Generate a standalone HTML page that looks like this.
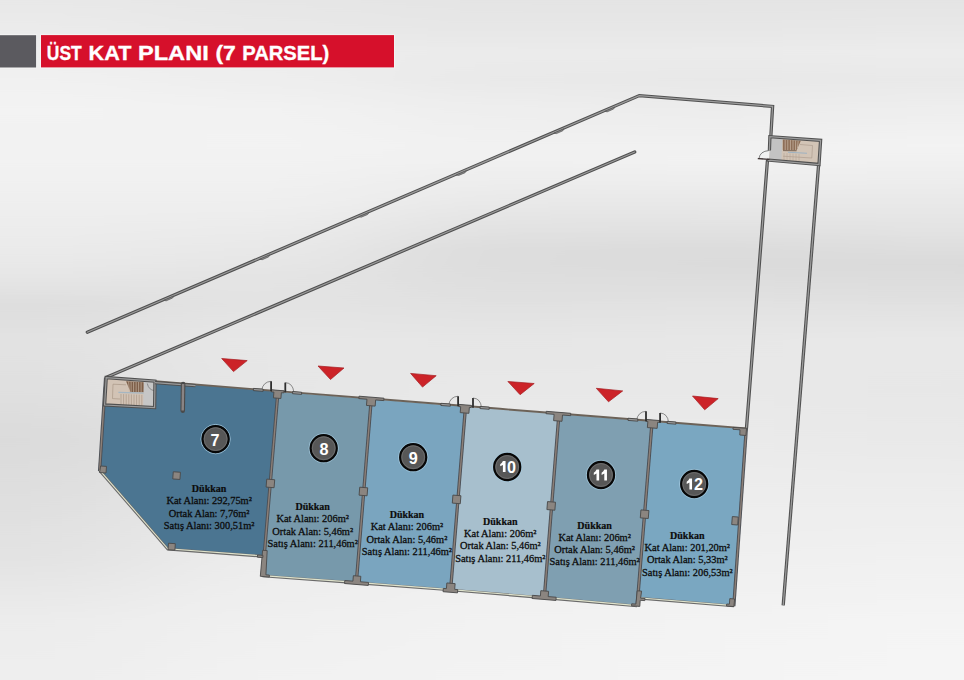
<!DOCTYPE html>
<html><head><meta charset="utf-8">
<style>
html,body{margin:0;padding:0;width:964px;height:680px;overflow:hidden;}
body{position:relative;background:#e8e8e8;font-family:"Liberation Sans",sans-serif;}
#gray{position:absolute;z-index:2;left:0;top:35.2px;width:36.1px;height:32.3px;background:#5b5a5f;box-shadow:0 0 1.5px rgba(255,255,255,0.9);}
#red{position:absolute;z-index:2;left:41px;top:35.1px;width:353px;height:32.3px;background:#d6102b;box-shadow:0 0 1.5px rgba(255,255,255,0.9);}
#title{position:absolute;z-index:3;left:47px;top:35.5px;height:32px;line-height:34px;color:#fff;font-weight:bold;font-size:21px;white-space:nowrap;}
svg{position:absolute;left:0;top:0;}
.ttl{font-family:"Liberation Sans",sans-serif;font-size:21px;font-weight:bold;fill:#fff;stroke:#fff;stroke-width:0.35;}
.lbl{font-family:"Liberation Serif",serif;font-size:10.4px;fill:#0c0c0c;stroke:#0c0c0c;stroke-width:0.28;text-anchor:middle;}
.lblb{font-family:"Liberation Serif",serif;font-size:10px;font-weight:bold;fill:#0c0c0c;stroke:#0c0c0c;stroke-width:0.2;text-anchor:middle;}
.num{font-family:"Liberation Sans",sans-serif;font-size:16.2px;font-weight:bold;fill:#fff;text-anchor:middle;}
.o1{fill:none;stroke:#505050;stroke-width:3.3;stroke-linecap:round;stroke-linejoin:miter;}
.o2{fill:none;stroke:#9c9c9c;stroke-width:1.2;stroke-linecap:round;stroke-linejoin:miter;}
.d1{fill:none;stroke:#4c5056;stroke-width:3.3;}
.d2{fill:none;stroke:#8c7f77;stroke-width:1.4;}
.pil{fill:#8b8580;stroke:#4a4a4a;stroke-width:0.9;stroke-linejoin:round;}
.gl1{fill:none;stroke:#6a6a6a;stroke-width:2.7;}
.gl2{fill:none;stroke:#dfe3cc;stroke-width:1.1;}
.post{stroke:#2e2e2e;stroke-width:1.8;}
.arc{fill:none;stroke:#4a4a4a;stroke-width:0.6;}
.sill{fill:#9a9a9a;stroke:#3e3e3e;stroke-width:0.8;}
</style></head><body>
<svg width="964" height="680" viewBox="0 0 964 680">
  <defs>
    <linearGradient id="bg0" x1="0" y1="0" x2="0" y2="680" gradientUnits="userSpaceOnUse">
      <stop offset="0.0000" stop-color="rgb(232,232,232)"/>
      <stop offset="0.0441" stop-color="rgb(235,235,235)"/>
      <stop offset="0.0765" stop-color="rgb(238,238,238)"/>
      <stop offset="0.1176" stop-color="rgb(241,241,241)"/>
      <stop offset="0.1618" stop-color="rgb(243,243,243)"/>
      <stop offset="0.2132" stop-color="rgb(242,242,242)"/>
      <stop offset="0.2353" stop-color="rgb(242,242,242)"/>
      <stop offset="0.2647" stop-color="rgb(241,241,241)"/>
      <stop offset="0.2941" stop-color="rgb(239,239,239)"/>
      <stop offset="0.3235" stop-color="rgb(237,237,237)"/>
      <stop offset="0.3676" stop-color="rgb(234,234,234)"/>
      <stop offset="0.3897" stop-color="rgb(232,232,232)"/>
      <stop offset="0.4044" stop-color="rgb(230,230,230)"/>
      <stop offset="0.4485" stop-color="rgb(222,222,222)"/>
      <stop offset="0.5000" stop-color="rgb(226,226,226)"/>
      <stop offset="0.5735" stop-color="rgb(224,224,224)"/>
      <stop offset="0.6471" stop-color="rgb(219,219,219)"/>
      <stop offset="0.7353" stop-color="rgb(223,223,223)"/>
      <stop offset="0.8235" stop-color="rgb(227,227,227)"/>
      <stop offset="0.9118" stop-color="rgb(236,236,236)"/>
      <stop offset="1.0000" stop-color="rgb(238,238,238)"/>
    </linearGradient>
    <linearGradient id="bg1" x1="0" y1="0" x2="0" y2="680" gradientUnits="userSpaceOnUse">
      <stop offset="0.0000" stop-color="rgb(230,230,230)"/>
      <stop offset="0.0441" stop-color="rgb(232,232,232)"/>
      <stop offset="0.0765" stop-color="rgb(236,236,236)"/>
      <stop offset="0.1176" stop-color="rgb(238,238,238)"/>
      <stop offset="0.1618" stop-color="rgb(242,242,242)"/>
      <stop offset="0.2132" stop-color="rgb(243,243,243)"/>
      <stop offset="0.2353" stop-color="rgb(242,242,242)"/>
      <stop offset="0.2647" stop-color="rgb(241,241,241)"/>
      <stop offset="0.2941" stop-color="rgb(239,239,239)"/>
      <stop offset="0.3235" stop-color="rgb(236,236,236)"/>
      <stop offset="0.3676" stop-color="rgb(232,232,232)"/>
      <stop offset="0.3897" stop-color="rgb(230,230,230)"/>
      <stop offset="0.4044" stop-color="rgb(228,228,228)"/>
      <stop offset="0.4485" stop-color="rgb(227,227,227)"/>
      <stop offset="0.5000" stop-color="rgb(231,231,231)"/>
      <stop offset="0.5735" stop-color="rgb(230,230,230)"/>
      <stop offset="0.6471" stop-color="rgb(229,229,229)"/>
      <stop offset="0.7353" stop-color="rgb(232,232,232)"/>
      <stop offset="0.8235" stop-color="rgb(236,236,236)"/>
      <stop offset="0.9118" stop-color="rgb(240,240,240)"/>
      <stop offset="1.0000" stop-color="rgb(242,242,242)"/>
    </linearGradient>
    <linearGradient id="bg2" x1="0" y1="0" x2="0" y2="680" gradientUnits="userSpaceOnUse">
      <stop offset="0.0000" stop-color="rgb(228,228,228)"/>
      <stop offset="0.0441" stop-color="rgb(231,231,231)"/>
      <stop offset="0.0765" stop-color="rgb(235,235,235)"/>
      <stop offset="0.1176" stop-color="rgb(233,233,233)"/>
      <stop offset="0.1618" stop-color="rgb(238,238,238)"/>
      <stop offset="0.2132" stop-color="rgb(241,241,241)"/>
      <stop offset="0.2353" stop-color="rgb(241,241,241)"/>
      <stop offset="0.2647" stop-color="rgb(237,237,237)"/>
      <stop offset="0.2941" stop-color="rgb(233,233,233)"/>
      <stop offset="0.3235" stop-color="rgb(228,228,228)"/>
      <stop offset="0.3676" stop-color="rgb(221,221,221)"/>
      <stop offset="0.3897" stop-color="rgb(221,221,221)"/>
      <stop offset="0.4044" stop-color="rgb(222,222,222)"/>
      <stop offset="0.4485" stop-color="rgb(225,225,225)"/>
      <stop offset="0.5000" stop-color="rgb(230,230,230)"/>
      <stop offset="0.5735" stop-color="rgb(232,232,232)"/>
      <stop offset="0.6471" stop-color="rgb(234,234,234)"/>
      <stop offset="0.7353" stop-color="rgb(236,236,236)"/>
      <stop offset="0.8235" stop-color="rgb(239,239,239)"/>
      <stop offset="0.9118" stop-color="rgb(242,242,242)"/>
      <stop offset="1.0000" stop-color="rgb(243,243,243)"/>
    </linearGradient>
    <linearGradient id="bg3" x1="0" y1="0" x2="0" y2="680" gradientUnits="userSpaceOnUse">
      <stop offset="0.0000" stop-color="rgb(228,228,228)"/>
      <stop offset="0.0441" stop-color="rgb(231,231,231)"/>
      <stop offset="0.0765" stop-color="rgb(235,235,235)"/>
      <stop offset="0.1176" stop-color="rgb(232,232,232)"/>
      <stop offset="0.1618" stop-color="rgb(236,236,236)"/>
      <stop offset="0.2132" stop-color="rgb(241,241,241)"/>
      <stop offset="0.2353" stop-color="rgb(242,242,242)"/>
      <stop offset="0.2647" stop-color="rgb(238,238,238)"/>
      <stop offset="0.2941" stop-color="rgb(233,233,233)"/>
      <stop offset="0.3235" stop-color="rgb(228,228,228)"/>
      <stop offset="0.3676" stop-color="rgb(220,220,220)"/>
      <stop offset="0.3897" stop-color="rgb(219,219,219)"/>
      <stop offset="0.4044" stop-color="rgb(221,221,221)"/>
      <stop offset="0.4485" stop-color="rgb(226,226,226)"/>
      <stop offset="0.5000" stop-color="rgb(231,231,231)"/>
      <stop offset="0.5735" stop-color="rgb(232,232,232)"/>
      <stop offset="0.6471" stop-color="rgb(234,234,234)"/>
      <stop offset="0.7353" stop-color="rgb(237,237,237)"/>
      <stop offset="0.8235" stop-color="rgb(240,240,240)"/>
      <stop offset="0.9118" stop-color="rgb(243,243,243)"/>
      <stop offset="1.0000" stop-color="rgb(244,244,244)"/>
    </linearGradient>
    <linearGradient id="bg4" x1="0" y1="0" x2="0" y2="680" gradientUnits="userSpaceOnUse">
      <stop offset="0.0000" stop-color="rgb(228,228,228)"/>
      <stop offset="0.0441" stop-color="rgb(232,232,232)"/>
      <stop offset="0.0765" stop-color="rgb(236,236,236)"/>
      <stop offset="0.1176" stop-color="rgb(233,233,233)"/>
      <stop offset="0.1618" stop-color="rgb(238,238,238)"/>
      <stop offset="0.2132" stop-color="rgb(243,243,243)"/>
      <stop offset="0.2353" stop-color="rgb(241,241,241)"/>
      <stop offset="0.2647" stop-color="rgb(237,237,237)"/>
      <stop offset="0.2941" stop-color="rgb(233,233,233)"/>
      <stop offset="0.3235" stop-color="rgb(229,229,229)"/>
      <stop offset="0.3676" stop-color="rgb(222,222,222)"/>
      <stop offset="0.3897" stop-color="rgb(218,218,218)"/>
      <stop offset="0.4044" stop-color="rgb(220,220,220)"/>
      <stop offset="0.4485" stop-color="rgb(225,225,225)"/>
      <stop offset="0.5000" stop-color="rgb(232,232,232)"/>
      <stop offset="0.5735" stop-color="rgb(231,231,231)"/>
      <stop offset="0.6471" stop-color="rgb(233,233,233)"/>
      <stop offset="0.7353" stop-color="rgb(237,237,237)"/>
      <stop offset="0.8235" stop-color="rgb(241,241,241)"/>
      <stop offset="0.9118" stop-color="rgb(244,244,244)"/>
      <stop offset="1.0000" stop-color="rgb(245,245,245)"/>
    </linearGradient>
    <filter id="hblur" x="-0.5" y="0" width="2" height="1" filterUnits="objectBoundingBox"><feGaussianBlur stdDeviation="70 0"/></filter>
  </defs>
  <g filter="url(#hblur)">
    <rect x="-400" y="0" width="555" height="680" fill="url(#bg0)"/>
    <rect x="155" y="0" width="230" height="680" fill="url(#bg1)"/>
    <rect x="385" y="0" width="230" height="680" fill="url(#bg2)"/>
    <rect x="615" y="0" width="210" height="680" fill="url(#bg3)"/>
    <rect x="825" y="0" width="539" height="680" fill="url(#bg4)"/>
  </g>
  <polyline class="o1"  points="87.3,332.2 639.3,95.6 772.6,106.4 770.8,137.0"/>
  <polyline class="o2"  points="87.3,332.2 639.3,95.6 772.6,106.4 770.8,137.0"/>
  <polyline class="o1"  points="106.5,377.3 634.7,152.0"/>
  <polyline class="o2"  points="106.5,377.3 634.7,152.0"/>
  <polyline class="o1"  points="767.4,161.0 746.5,428.0"/>
  <polyline class="o2"  points="767.4,161.0 746.5,428.0"/>
  <polyline class="o1" style="stroke-linecap:butt" points="818.6,165.0 783.2,605.4"/>
  <polyline class="o2" style="stroke-linecap:butt" points="818.6,165.0 783.2,605.4"/>
  <polygon points="163.8,300.3 166.2,300.8 172.6,298.0 173.9,296.0" fill="#8c8c8c" stroke="#555" stroke-width="0.7"/>
  <polygon points="259.8,259.2 262.2,259.7 268.6,256.9 269.9,254.8" fill="#8c8c8c" stroke="#555" stroke-width="0.7"/>
  <polygon points="358.8,216.7 361.2,217.2 367.6,214.5 368.9,212.4" fill="#8c8c8c" stroke="#555" stroke-width="0.7"/>
  <polygon points="456.3,174.9 458.7,175.4 465.1,172.7 466.4,170.6" fill="#8c8c8c" stroke="#555" stroke-width="0.7"/>
  <polygon points="554.0,133.1 556.4,133.6 562.8,130.8 564.1,128.7" fill="#8c8c8c" stroke="#555" stroke-width="0.7"/>
  <polygon points="604.8,111.3 607.2,111.8 613.6,109.0 614.9,107.0" fill="#8c8c8c" stroke="#555" stroke-width="0.7"/>
  <!-- stair box top right -->
  <polygon points="770.5,137.5 820.2,141 818.8,163.6 769.2,159.2" fill="#d2c4b6"/>
  <polygon points="770.5,137.5 782.4,138.4 781.4,160.2 769.2,159.2" fill="#c3c3c3"/>
  <polygon points="782.8,139.5 800.8,140.7 796.5,150.6 782.8,150" fill="#8d6e57"/>
  <g stroke="#d8c9b8" stroke-width="0.6">
    <line x1="785.2" y1="139.6" x2="785.2" y2="150"/><line x1="787.8" y1="139.8" x2="787.8" y2="150.2"/><line x1="790.4" y1="140" x2="790.4" y2="150.3"/><line x1="793" y1="140.2" x2="793" y2="150.4"/><line x1="795.6" y1="140.4" x2="795.6" y2="150.5"/><line x1="798.2" y1="140.5" x2="797.5" y2="148"/>
  </g>
  <line x1="783" y1="150.6" x2="796.5" y2="150.8" stroke="#6b5444" stroke-width="0.8"/>
  <line x1="788" y1="152.3" x2="807" y2="153.2" stroke="#9eb2c2" stroke-width="1.1"/>
  <g stroke="#a08f80" stroke-width="0.5" fill="none">
    <polyline points="800,144.5 812.5,145.5 811.8,158 783,156.2"/>
  </g>
  <g stroke="#b3a292" stroke-width="0.55">
    <line x1="784" y1="153" x2="784" y2="160"/><line x1="787" y1="153.2" x2="787" y2="160.2"/><line x1="790" y1="153.4" x2="790" y2="160.4"/><line x1="793" y1="153.6" x2="793" y2="160.6"/><line x1="796" y1="153.8" x2="796" y2="160.8"/><line x1="799" y1="154" x2="799" y2="161"/>
  </g>
  <polyline class="o1" style="stroke-linecap:butt" points="769.4,150.5 769.9,136.7 820.6,140.4 819,164.5 768.4,160.1 768.7,159"/>
  <polyline class="o2" style="stroke-linecap:butt" points="769.4,150.5 769.9,136.7 820.6,140.4 819,164.5 768.4,160.1 768.7,159"/>
  <!-- door top right -->
  <path d="M759,158.4 Q760,151.2 768.8,150.6" fill="none" stroke="#505050" stroke-width="0.7"/>
  <line x1="758.3" y1="158.7" x2="769" y2="159.3" stroke="#3a2f2f" stroke-width="1.3" stroke-linecap="round"/>

  <!-- shops -->
  <polygon points="105.6,377.2 277.9,391.7 264.2,556.0 167.8,549.0 99.3,470.0" fill="#4b7591"/>
  <polygon points="277.9,391.7 371.2,399.1 356.3,582.8 262.5,576.0" fill="#7799ab"/>
  <polygon points="371.2,399.1 465.4,406.7 450.6,590.0 356.3,582.8" fill="#7aa5bf"/>
  <polygon points="465.4,406.7 558.8,414.1 544.3,597.8 450.6,590.0" fill="#a7bfcd"/>
  <polygon points="558.8,414.1 652.0,421.5 637.1,606.0 544.3,597.8" fill="#7f9fb1"/>
  <polygon points="652.0,421.5 746.3,428.6 733.8,606.2 637.8,598.0" fill="#7aa7c1"/>
  <polyline class="d1"  points="99.6,471.0 105.6,377.6"/>
  <polyline class="d2"  points="99.6,471.0 105.6,377.6"/>
  <polyline class="d1"  points="746.3,428.6 733.8,606.2"/>
  <polyline class="d2"  points="746.3,428.6 733.8,606.2"/>
  <polyline fill="none" stroke="#6c6258" stroke-width="1.9" points="155.0,381.3 300.0,392.9 400.0,400.8 500.0,408.8 600.0,416.8 700.0,424.7 746.3,428.4"/>
  <polyline class="gl1" points="99.6,470.5 167.8,549.2 261.0,556.2"/>
  <polyline class="gl1" points="262.5,576.0 356.3,582.8 450.6,590.0 544.3,597.8 637.1,606.0"/>
  <polyline class="gl1" points="637.8,598.2 733.8,606.0"/>
  <polyline class="gl2" points="99.6,470.1 167.8,548.8 261.0,555.8"/>
  <polyline class="gl2" points="262.5,575.6 356.3,582.4 450.6,589.6 544.3,597.4 637.1,605.6"/>
  <polyline class="gl2" points="637.8,597.8 733.8,605.6"/>
  <line class="d1" x1="277.9" y1="392" x2="262.5" y2="576"/>
  <line class="d1" x1="371.2" y1="400" x2="356.3" y2="582.8"/>
  <line class="d1" x1="465.4" y1="408" x2="450.6" y2="590"/>
  <line class="d1" x1="558.8" y1="415.6" x2="544.3" y2="597.8"/>
  <line class="d1" x1="652.0" y1="423" x2="637.1" y2="606"/>
  <line class="d2" x1="277.9" y1="392" x2="262.5" y2="576"/>
  <line class="d2" x1="371.2" y1="400" x2="356.3" y2="582.8"/>
  <line class="d2" x1="465.4" y1="408" x2="450.6" y2="590"/>
  <line class="d2" x1="558.8" y1="415.6" x2="544.3" y2="597.8"/>
  <line class="d2" x1="652.0" y1="423" x2="637.1" y2="606"/>
  <!-- pillars -->
  <path class="pil" transform="translate(277.8,390.3) rotate(4.6)" d="M-6.2,0 H6.2 V2.1 H3.75 V7.9 H-3.75 V2.1 H-6.2 Z"/>
  <path class="pil" transform="translate(371.5,397.2) rotate(4.6)" d="M-12.5,0 H12.5 V2.4 H4.35 V8.6 H-4.35 V2.4 H-12.5 Z"/>
  <path class="pil" transform="translate(465.2,404.9) rotate(4.6)" d="M-6.2,0 H6.2 V2.2 H4.35 V8.100000000000001 H-4.35 V2.2 H-6.2 Z"/>
  <path class="pil" transform="translate(558.5,412.3) rotate(4.6)" d="M-12.3,0 H12.3 V2.4 H4.2 V8.7 H-4.2 V2.4 H-12.3 Z"/>
  <path class="pil" transform="translate(652.9,420.0) rotate(4.6)" d="M-6.75,0 H6.75 V1.8 H4.9 V8.0 H-4.9 V1.8 H-6.75 Z"/>
  <path class="pil" d="M733,427.4 L746.5,428.3 L745.9,435.5 L739.8,435 L740,429.8 L733,429.3 Z"/>
  <path class="pil" transform="translate(357.1,576.0) rotate(4.6)" d="M-3.75,0 H3.75 V5.5 H11.9 V8.5 H-11.9 V5.5 H-3.75 Z"/>
  <path class="pil" transform="translate(451.0,583.3) rotate(4.6)" d="M-4.15,0 H4.15 V5.7 H7.25 V9.0 H-7.25 V5.7 H-4.15 Z"/>
  <path class="pil" transform="translate(544.7,591.0) rotate(4.6)" d="M-3.9,0 H3.9 V5.3 H11.95 V8.5 H-11.95 V5.3 H-3.9 Z"/>
  <path class="pil" d="M262.6,550.3 L267.2,550.6 L265.9,574.8 L269.4,575.1 L269.3,577 L260.3,576.3 Z"/>
  <path class="pil" d="M257.5,555 L263,555.4 L262.8,557.6 L257.4,557.2 Z"/>
  <path class="pil" d="M637.2,590.8 L641.6,591.1 L640.6,598.2 L645,598.5 L644.8,600.6 L640.2,600.3 L639.8,606.4 L631.5,605.8 L631.7,603.8 L635.9,604.1 Z"/>
  <path class="pil" d="M729.8,598.6 L734.6,599 L733.9,606.6 L726.5,606 L726.7,604 L729.4,604.2 Z"/>
  <rect class="pil" x="266.4" y="479.4" width="8" height="8" transform="rotate(4.6 270.35 483.45)"/>
  <rect class="pil" x="359.4" y="487.5" width="8" height="8" transform="rotate(4.6 363.4 491.5)"/>
  <rect class="pil" x="452.6" y="495.4" width="8" height="8" transform="rotate(4.6 456.6 499.4)"/>
  <rect class="pil" x="547.2" y="501.9" width="8" height="8" transform="rotate(4.6 551.2 505.9)"/>
  <rect class="pil" x="640.6" y="510.2" width="8" height="8" transform="rotate(4.6 644.6 514.2)"/>
  <rect class="pil" x="732" y="516.8" width="6" height="8" transform="rotate(4.6 735 520.8)"/>
  <path class="pil" d="M100.6,466 L106.5,466.4 L106,473 L99.6,472.5 Z"/>
  <rect class="pil" x="173" y="472" width="7.2" height="7.2" transform="rotate(4 176.6 475.6)"/>
  <path class="pil" d="M168.5,543.2 L175.3,543.7 L174.9,550.2 L168,549.7 Z"/>
  <!-- doors -->
  <line class="post" x1="271.1" y1="381.3" x2="271.1" y2="391.3"/>
  <line class="post" x1="285.3" y1="382.6" x2="285.3" y2="392.40000000000003"/>
  <path class="arc" d="M261.6,390.3 Q263.1,381.8 271.1,381.3"/>
  <path class="arc" d="M285.3,382.6 Q292.8,383.1 293.8,391.90000000000003"/>
  <line class="post" x1="458.1" y1="396.2" x2="458.1" y2="406.2"/>
  <line class="post" x1="473.0" y1="398.0" x2="473.0" y2="407.8"/>
  <path class="arc" d="M448.6,405.2 Q450.1,396.7 458.1,396.2"/>
  <path class="arc" d="M473.0,398.0 Q480.5,398.5 481.5,407.3"/>
  <line class="post" x1="646.0" y1="411.3" x2="646.0" y2="421.3"/>
  <line class="post" x1="660.1" y1="413.0" x2="660.1" y2="422.8"/>
  <path class="arc" d="M636.5,420.3 Q638.0,411.8 646.0,411.3"/>
  <path class="arc" d="M660.1,413.0 Q667.6,413.5 668.6,422.3"/>
  <!-- sills -->
  <polygon class="sill" points="253.4,388.4 263.1,389.1 263.1,391.3 253.4,390.6"/>
  <polygon class="sill" points="292.6,391.5 301.6,392.2 301.6,394.4 292.6,393.7"/>
  <polygon class="sill" points="440.9,403.3 450.3,404.0 450.3,406.2 440.9,405.5"/>
  <polygon class="sill" points="480.1,406.4 489.2,407.1 489.2,409.3 480.1,408.6"/>
  <polygon class="sill" points="628.0,418.2 637.8,419.0 637.8,421.2 628.0,420.4"/>
  <polygon class="sill" points="667.2,421.3 675.9,422.0 675.9,424.2 667.2,423.5"/>
  <!-- stair box shop 7 -->
  <polygon points="106.5,378.2 155.5,381.8 155.2,407 105,404" fill="#d2c3b5"/>
  <polygon points="143.6,380.8 155.5,381.8 155.2,407 143.2,406" fill="#c6c6c6"/>
  <polygon points="126.1,381.3 143.6,382.3 143.5,392.3 130.5,392" fill="#7d5e48"/>
  <g stroke="#c9b6a4" stroke-width="0.7">
    <line x1="128.6" y1="381.5" x2="129.4" y2="392"/><line x1="131.1" y1="381.6" x2="131.1" y2="392"/><line x1="133.6" y1="381.8" x2="133.6" y2="392.1"/><line x1="136.1" y1="381.9" x2="136.1" y2="392.1"/><line x1="138.6" y1="382" x2="138.6" y2="392.2"/><line x1="141.1" y1="382.2" x2="141.1" y2="392.2"/>
  </g>
  <line x1="118.4" y1="392.4" x2="143.6" y2="393.2" stroke="#a5b6c2" stroke-width="1.3"/>
  <g stroke="#a39080" stroke-width="0.6">
    <line x1="121" y1="394" x2="121" y2="404.6"/><line x1="123.6" y1="394.1" x2="123.6" y2="404.8"/><line x1="126.2" y1="394.2" x2="126.2" y2="405"/><line x1="128.8" y1="394.3" x2="128.8" y2="405.2"/><line x1="131.4" y1="394.4" x2="131.4" y2="405.3"/><line x1="134" y1="394.5" x2="134" y2="405.5"/><line x1="136.6" y1="394.6" x2="136.6" y2="405.6"/><line x1="139.2" y1="394.7" x2="139.2" y2="405.8"/><line x1="141.8" y1="394.8" x2="141.8" y2="405.9"/>
  </g>
  <polyline points="126,384.8 113,384.2 112.5,398.6 120,399" fill="none" stroke="#a39080" stroke-width="0.6"/>
  <path d="M147.3,383.5 Q148.5,389.8 154.5,390.7" fill="none" stroke="#707070" stroke-width="0.7"/>
  <polygon class="o1" points="155,381.2 106.2,377.6 104.6,405 154.6,407.6"/>
  <polygon class="o2" points="155,381.2 106.2,377.6 104.6,405 154.6,407.6"/>

  <!-- internal partition shop 7 -->
  <polyline class="o1" style="stroke-linecap:butt" points="155,382.7 195.5,385.6"/>
  <polyline class="o2" style="stroke-linecap:butt" points="155,382.7 195.5,385.6"/>
  <line x1="183.1" y1="384" x2="182.7" y2="410.6" stroke="#4a4a4a" stroke-width="4.6" stroke-linecap="round"/>
  <line x1="183.1" y1="384" x2="182.7" y2="410.4" stroke="#8a8484" stroke-width="2.4"/>
  <!-- triangles -->
  <g fill="#cc2328" stroke="#a51b20" stroke-width="0.7" stroke-linejoin="round">
    <polygon points="221.7,358.5 247.2,360.6 233.5,371.6"/>
    <polygon points="318.0,366.0 344.0,368.0 330.5,379.5"/>
    <polygon points="410.6,373.4 436.2,375.7 422.5,387.1"/>
    <polygon points="507.9,381.5 534.2,383.5 520.1,394.7"/>
    <polygon points="596.3,388.3 622.7,390.9 608.5,401.8"/>
    <polygon points="692.5,396.0 718.2,398.6 704.7,409.8"/>
  </g>
  <g fill="none" stroke="#a6cbe0" stroke-width="1" opacity="0.8">
    <circle cx="215.6" cy="439.1" r="14.7"/>
    <circle cx="323.7" cy="448.2" r="14.7"/>
    <circle cx="413.2" cy="457.2" r="14.7"/>
    <circle cx="507.2" cy="467.0" r="14.7"/>
    <circle cx="601.0" cy="475.0" r="14.7"/>
    <circle cx="694.2" cy="484.0" r="14.7"/>
  </g>
  <g fill="#575757" stroke="#070707" stroke-width="2.2">
    <circle cx="215.6" cy="439.1" r="13.05"/>
    <circle cx="323.7" cy="448.2" r="13.05"/>
    <circle cx="413.2" cy="457.2" r="13.05"/>
    <circle cx="507.2" cy="467.0" r="13.05"/>
    <circle cx="601.0" cy="475.0" r="13.05"/>
    <circle cx="694.2" cy="484.0" r="13.05"/>
  </g>
  <g fill="none" stroke="#6e6e6e" stroke-width="0.9">
    <circle cx="215.6" cy="439.1" r="11.4"/>
    <circle cx="323.7" cy="448.2" r="11.4"/>
    <circle cx="413.2" cy="457.2" r="11.4"/>
    <circle cx="507.2" cy="467.0" r="11.4"/>
    <circle cx="601.0" cy="475.0" r="11.4"/>
    <circle cx="694.2" cy="484.0" r="11.4"/>
  </g>
  <g class="num">
    <text x="215.1" y="445.7">7</text>
    <text x="323.9" y="455.0">8</text>
    <text x="413.3" y="464.1">9</text>
    <path fill="#fff" d="M502.90,461.00 H505.55 V472.00 H502.90 V464.90 L500.20,466.30 V464.20 Q502.30,462.90 502.90,461.00 Z"/>
    <text x="511.5" y="472.8">0</text>
    <path fill="#fff" d="M596.50,469.60 H599.15 V480.60 H596.50 V473.50 L593.80,474.90 V472.80 Q595.90,471.50 596.50,469.60 Z"/>
    <path fill="#fff" d="M604.30,469.60 H606.95 V480.60 H604.30 V473.50 L601.60,474.90 V472.80 Q603.70,471.50 604.30,469.60 Z"/>
    <path fill="#fff" d="M689.40,478.60 H692.05 V489.60 H689.40 V482.50 L686.70,483.90 V481.80 Q688.80,480.50 689.40,478.60 Z"/>
    <text x="698.5" y="490.4">2</text>
  </g>
  <g>
    <text class="lblb" x="209.1" y="492.3">Dükkan</text>
    <text class="lbl" x="209.1" y="504.3">Kat Alanı: 292,75m²</text>
    <text class="lbl" x="209.1" y="516.5">Ortak Alan: 7,76m²</text>
    <text class="lbl" x="209.1" y="528.8">Satış Alanı: 300,51m²</text>
    <text class="lblb" x="312.7" y="510.3">Dükkan</text>
    <text class="lbl" x="312.7" y="522.3">Kat Alanı: 206m²</text>
    <text class="lbl" x="312.7" y="534.5">Ortak Alan: 5,46m²</text>
    <text class="lbl" x="312.7" y="546.8">Satış Alanı: 211,46m²</text>
    <text class="lblb" x="406.9" y="518.3">Dükkan</text>
    <text class="lbl" x="406.9" y="530.3">Kat Alanı: 206m²</text>
    <text class="lbl" x="406.9" y="542.5">Ortak Alan: 5,46m²</text>
    <text class="lbl" x="406.9" y="554.8">Satış Alanı: 211,46m²</text>
    <text class="lblb" x="500.3" y="525.1">Dükkan</text>
    <text class="lbl" x="500.3" y="537.1">Kat Alanı: 206m²</text>
    <text class="lbl" x="500.3" y="549.4">Ortak Alan: 5,46m²</text>
    <text class="lbl" x="500.3" y="561.6">Satış Alanı: 211,46m²</text>
    <text class="lblb" x="594.6" y="528.6">Dükkan</text>
    <text class="lbl" x="594.6" y="540.6">Kat Alanı: 206m²</text>
    <text class="lbl" x="594.6" y="552.9">Ortak Alan: 5,46m²</text>
    <text class="lbl" x="594.6" y="565.1">Satış Alanı: 211,46m²</text>
    <text class="lblb" x="687.3" y="539.0">Dükkan</text>
    <text class="lbl" x="687.3" y="551.0">Kat Alanı: 201,20m²</text>
    <text class="lbl" x="687.3" y="563.2">Ortak Alan: 5,33m²</text>
    <text class="lbl" x="687.3" y="575.5">Satış Alanı: 206,53m²</text>
  </g>
  <rect x="-2" y="34.3" width="39" height="34" fill="#fff" opacity="0.45"/>
  <rect x="40.2" y="34.3" width="354.6" height="34" fill="#fff" opacity="0.45"/>
  <rect x="0" y="35.2" width="36.1" height="32.3" fill="#5b5a5f"/>
  <rect x="41" y="35.1" width="353" height="32.3" fill="#d6102b"/>
  <text class="ttl" x="46.80" y="60.1" textLength="34.90" lengthAdjust="spacingAndGlyphs">ÜST</text>
  <text class="ttl" x="88.60" y="60.1" textLength="42.80" lengthAdjust="spacingAndGlyphs">KAT</text>
  <text class="ttl" x="138.00" y="60.1" textLength="70.70" lengthAdjust="spacingAndGlyphs">PLANI</text>
  <text class="ttl" x="215.40" y="60.1" textLength="20.40" lengthAdjust="spacingAndGlyphs">(7</text>
  <text class="ttl" x="242.30" y="60.1" textLength="87.00" lengthAdjust="spacingAndGlyphs">PARSEL)</text>
</svg>
</body></html>
